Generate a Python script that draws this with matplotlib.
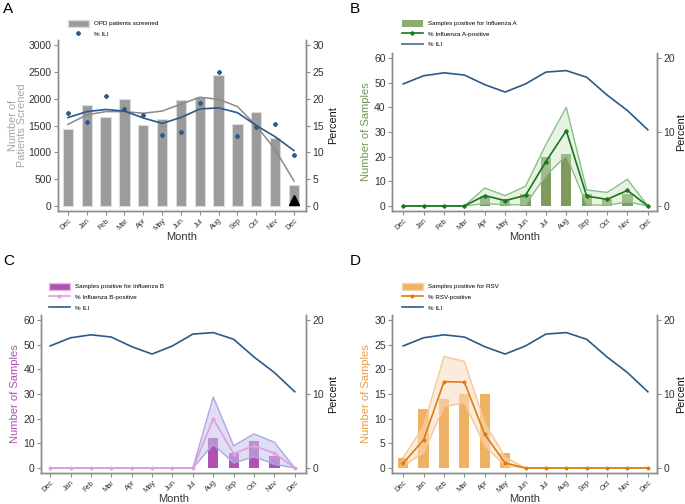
import numpy as np
import matplotlib
matplotlib.use("Agg")
import matplotlib.pyplot as plt
from matplotlib.patches import Patch
from matplotlib.lines import Line2D

plt.rcParams["font.family"] = ["Liberation Sans", "DejaVu Sans"]

# Data
months = ["Dec", "Jan", "Feb", "Mar", "Apr", "May", "Jun", "Jul", "Aug", "Sep", "Oct", "Nov", "Dec"]

opd_screened = [1430, 1890, 1650, 1995, 1510, 1620, 1970, 2030, 2440, 1520, 1745, 1260, 390]
opd_smooth = [1520, 1700, 1760, 1760, 1730, 1770, 1900, 2030, 1990, 1855, 1495, 1050, 460]
ili_points = [17.3, 15.7, 20.6, 18.0, 16.9, 13.3, 13.8, 19.2, 25.1, 13.1, 14.8, 15.2, 9.5]
ili_smooth = [16.5, 17.6, 18.0, 17.7, 16.4, 15.4, 16.5, 18.1, 18.3, 17.4, 15.0, 12.9, 10.3]

flua_counts = [0, 0, 0, 0, 4, 3, 5, 20, 21, 5, 3, 5, 0]
flua_pct = [0, 0, 0, 0, 1.4, 0.73, 1.43, 6.0, 10.17, 1.33, 0.9, 2.1, 0]
flua_hi = [0, 0, 0, 0, 2.43, 1.4, 2.67, 8.3, 13.33, 2.17, 1.83, 3.6, 0]
flua_lo = [0, 0, 0, 0, 0.33, 0.17, 0.17, 4.1, 6.83, 0.17, 0.07, 0.57, 0]

flub_counts = [0, 0, 0, 0, 0, 0, 0, 0, 12, 6, 11, 5, 0]
flub_pct = [0, 0, 0, 0, 0, 0, 0, 0, 6.6, 1.95, 3.0, 2.0, 0]
flub_hi = [0, 0, 0, 0, 0, 0, 0, 0, 9.6, 3.0, 4.6, 3.47, 0]
flub_lo = [0, 0, 0, 0, 0, 0, 0, 0, 3.2, 0.68, 1.53, 0.5, 0]

rsv_counts = [2, 12, 14, 15, 15, 3, 0, 0, 0, 0, 0, 0, 0]
rsv_pct = [0.67, 3.8, 11.67, 11.6, 4.53, 0.67, 0, 0, 0, 0, 0, 0, 0]
rsv_hi = [1.4, 5.67, 15.07, 14.4, 6.13, 1.47, 0, 0, 0, 0, 0, 0, 0]
rsv_lo = [0.27, 2.07, 8.27, 8.8, 3.0, 0.27, 0, 0, 0, 0, 0, 0, 0]

W, H = 685, 504
fig = plt.figure(figsize=(W / 100, H / 100), dpi=100)

SPINE = "#8c8c8c"
TXT = "#333333"
ILI_BLUE = "#2b5a88"
x = np.arange(len(months))


def make_axes(left, top, right, bottom, ppad=3):
    ax = fig.add_axes([left / W, 1 - bottom / H, (right - left) / W, (bottom - top) / H])
    ax2 = ax.twinx()
    for a in (ax, ax2):
        a.spines["top"].set_visible(False)
        for s in ("left", "right", "bottom"):
            a.spines[s].set_color(SPINE)
            a.spines[s].set_linewidth(1.0)
        a.tick_params(colors=SPINE, labelcolor=TXT, labelsize=7.5, length=3, width=0.8, pad=1.5)
    ax.set_xticks(x)
    ax.set_xticklabels(months, rotation=45, fontsize=5.3, ha="right", rotation_mode="anchor")
    ax.set_xlabel("Month", fontsize=8, color=TXT, labelpad=0)
    ax2.set_ylabel("Percent", fontsize=7.8, color="#111111", labelpad=ppad)
    return ax, ax2


def finish(ax, ax2, ymax, pmax, xl):
    pad = ymax * 0.034
    ax.set_ylim(-pad, ymax + pad)
    ax2.set_ylim(-pad * pmax / ymax, pmax + pad * pmax / ymax)
    ax.set_xlim(*xl)
    ax2.set_zorder(ax.get_zorder() + 1)
    ax2.patch.set_visible(False)


def legend(ax, handles, labels, px, py):
    ax.legend(handles, labels, loc="upper left", bbox_to_anchor=(px / W, 1 - py / H),
              bbox_transform=fig.transFigure, frameon=False, fontsize=4.5,
              handlelength=3.4, handleheight=1.4, labelspacing=0.55, handletextpad=0.8,
              borderaxespad=0)


# ---- Panel A
ax, ax2 = make_axes(58, 40, 306, 211)
ax.bar(x, opd_screened, width=0.55, color="#9b9b9b", edgecolor="#dddddd", linewidth=0.8)
ax.plot(x, opd_smooth, color="#8a8a8a", lw=1.1)
ax.plot(x[-1], 110, marker="^", color="black", ms=6.5)
ax2.plot(x, ili_smooth, color=ILI_BLUE, lw=1.2)
ax2.plot(x, ili_points, ls="none", marker="P", color=ILI_BLUE, ms=2.6)
ax.set_yticks([0, 500, 1000, 1500, 2000, 2500, 3000])
ax2.set_yticks([0, 5, 10, 15, 20, 25, 30])
ax.set_ylabel("Number of\nPatients Screned", fontsize=7.8, color="#a6a6a6", labelpad=1, linespacing=0.85)
finish(ax, ax2, 3000, 30, (-0.53, 12.64))
legend(ax, [Patch(facecolor="#9b9b9b", edgecolor="#dddddd"),
            Line2D([], [], ls="none", marker="P", color=ILI_BLUE, ms=2.6)],
       ["OPD patients screened", "% ILI"], 65, 17)
fig.text(3 / W, 1 - 2 / H, "A", fontsize=11, va="top", ha="left")

# ---- Panel B
ax, ax2 = make_axes(392, 53, 657, 211, ppad=1)
ax.bar(x, flua_counts, width=0.5, color="#7f9a5c")
ax2.fill_between(x, flua_lo, flua_hi, color="#cfe5c4", alpha=0.45, lw=0)
ax2.plot(x, flua_hi, color="#86c286", lw=1.0)
ax2.plot(x, flua_lo, color="#86c286", lw=1.0)
ax2.plot(x, flua_pct, color="#16781a", lw=1.2, marker="P", ms=2.3)
ax2.plot(x, ili_smooth, color=ILI_BLUE, lw=1.2)
ax.set_yticks([0, 10, 20, 30, 40, 50, 60])
ax2.set_yticks([0, 10, 20])
ax.set_ylabel("Number of Samples", fontsize=8, color="#6f9650", labelpad=2)
finish(ax, ax2, 60, 20, (-0.55, 12.45))
legend(ax, [Patch(facecolor="#8fab6f"),
            Line2D([], [], color="#16781a", lw=1.2, marker="P", ms=2.3),
            Line2D([], [], color="#5f7fa0", lw=1.4)],
       ["Samples positive for Influenza A", "% Influenza A-positive", "% ILI"], 399, 17)
fig.text(350 / W, 1 - 2 / H, "B", fontsize=11, va="top", ha="left")

# ---- Panel C
ax, ax2 = make_axes(41, 315, 306, 473)
ax.bar(x, flub_counts, width=0.5, color="#b052b4")
ax2.fill_between(x, flub_lo, flub_hi, color="#c6c3ee", alpha=0.55, lw=0)
ax2.plot(x, flub_hi, color="#aaa7e6", lw=1.0)
ax2.plot(x, flub_lo, color="#aaa7e6", lw=1.0)
ax2.plot(x, flub_pct, color="#e29fde", lw=1.2, marker="P", ms=2.0)
ax2.plot(x, ili_smooth, color=ILI_BLUE, lw=1.2)
ax.set_yticks([0, 10, 20, 30, 40, 50, 60])
ax2.set_yticks([0, 10, 20])
ax.set_ylabel("Number of Samples", fontsize=8, color="#b04fb4", labelpad=2)
finish(ax, ax2, 60, 20, (-0.45, 12.55))
legend(ax, [Patch(facecolor="#b052b4", edgecolor="#e6b6e6"),
            Line2D([], [], color="#e29fde", lw=1.2, marker="P", ms=2.0),
            Line2D([], [], color=ILI_BLUE, lw=1.2)],
       ["Samples positive for Influenza B", "% Influenza B-positive", "% ILI"], 46, 280)
fig.text(3 / W, 1 - 254 / H, "C", fontsize=11, va="top", ha="left")

# ---- Panel D
ax, ax2 = make_axes(392, 315, 657, 473, ppad=1)
ax.bar(x, rsv_counts, width=0.5, color="#efb163")
ax2.fill_between(x, rsv_lo, rsv_hi, color="#f9dcc2", alpha=0.55, lw=0)
ax2.plot(x, rsv_hi, color="#f6c894", lw=1.0)
ax2.plot(x, rsv_lo, color="#f6c894", lw=1.0)
ax2.plot(x, rsv_pct, color="#e07b12", lw=1.2, marker="P", ms=2.0)
ax2.plot(x, ili_smooth, color=ILI_BLUE, lw=1.2)
ax.set_yticks([0, 5, 10, 15, 20, 25, 30])
ax2.set_yticks([0, 10, 20])
ax.set_ylabel("Number of Samples", fontsize=8, color="#ee9a40", labelpad=2)
finish(ax, ax2, 30, 20, (-0.55, 12.45))
legend(ax, [Patch(facecolor="#efb163", edgecolor="#f7d4a8"),
            Line2D([], [], color="#e07b12", lw=1.2, marker="P", ms=2.0),
            Line2D([], [], color=ILI_BLUE, lw=1.2)],
       ["Samples positive for RSV", "% RSV-positive", "% ILI"], 399, 280)
fig.text(350 / W, 1 - 254 / H, "D", fontsize=11, va="top", ha="left")

fig.savefig("out.png", dpi=100, facecolor="white")
